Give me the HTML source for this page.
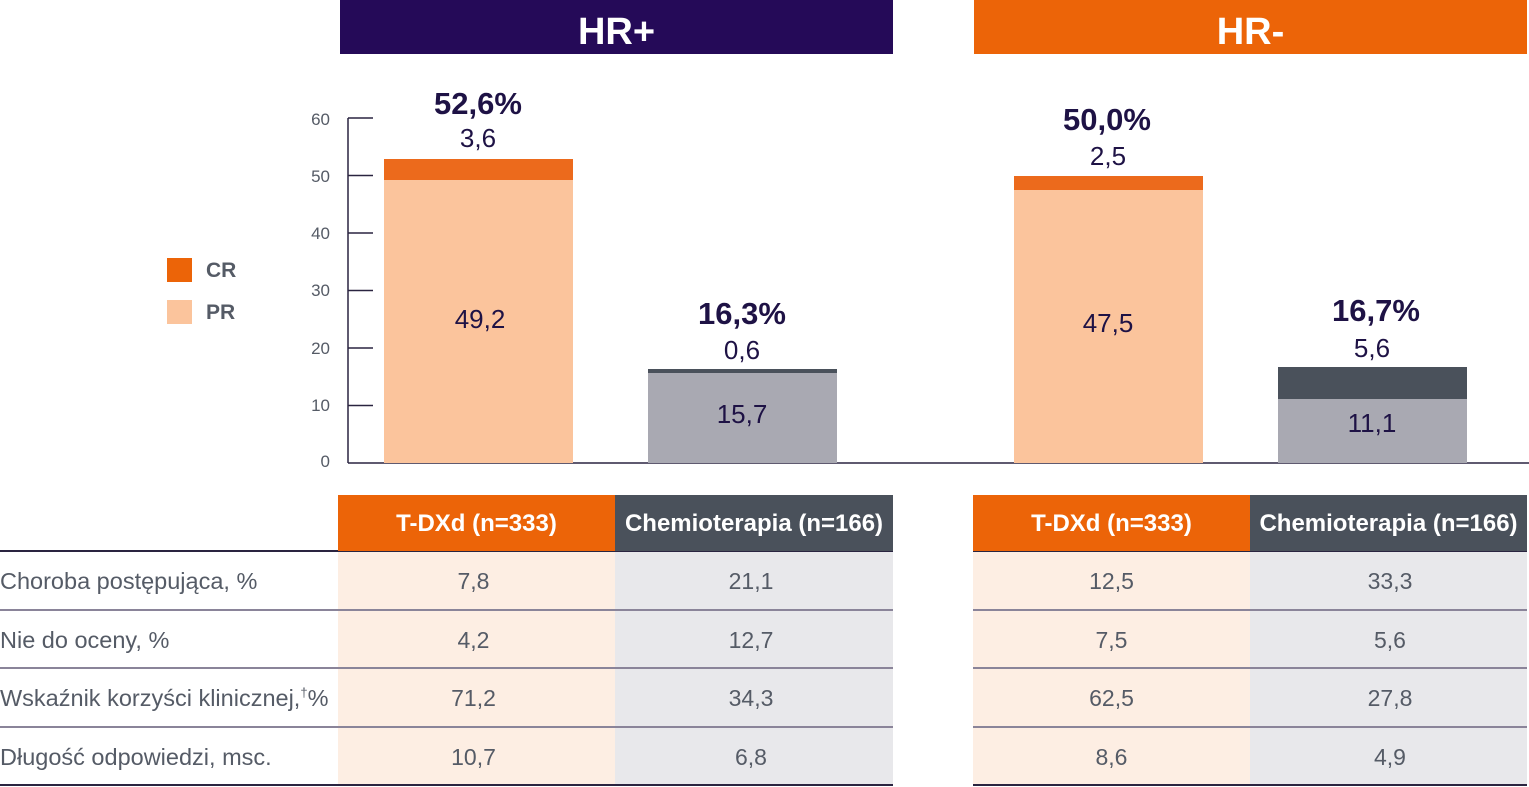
<!DOCTYPE html>
<html><head><meta charset="utf-8"><style>
body{margin:0;width:1529px;height:787px;background:#fff;overflow:hidden;position:relative;font-family:"Liberation Sans",Arial,sans-serif;}
.a{position:absolute;}
.hdr{color:#fff;font-weight:bold;font-size:38px;text-align:center;line-height:64px;}
.lbl{color:#1e1245;text-align:center;width:300px;}
.big{font-weight:bold;font-size:31px;}
.sm{font-size:26px;}
.th{color:#fff;font-weight:bold;font-size:24px;text-align:center;line-height:58px;top:495px;height:56px;}
.td{font-size:23px;color:#555b66;text-align:center;line-height:58px;}
.rl{font-size:23.5px;color:#555b66;left:0;line-height:58px;white-space:nowrap;}
.tick{color:#555b66;font-size:17px;width:31px;text-align:right;left:299px;}
</style></head><body>
<div class="a hdr" style="left:340px;top:0;width:553px;height:54px;background:#250a58">HR+</div>
<div class="a hdr" style="left:974px;top:0;width:553px;height:54px;background:#ec6408">HR-</div>

<svg class="a" style="left:0;top:0" width="1529" height="787">
<g stroke="#2a2440" stroke-width="1.5">
<line x1="348" y1="118" x2="348" y2="463"/>
<line x1="348" y1="463" x2="1529" y2="463"/>
<line x1="348" y1="118" x2="373" y2="118"/>
<line x1="348" y1="175.5" x2="373" y2="175.5"/>
<line x1="348" y1="233" x2="373" y2="233"/>
<line x1="348" y1="290.5" x2="373" y2="290.5"/>
<line x1="348" y1="348" x2="373" y2="348"/>
<line x1="348" y1="405.5" x2="373" y2="405.5"/>
</g>
<rect x="384" y="180" width="189" height="283" fill="#fbc49c"/>
<rect x="384" y="159" width="189" height="21" fill="#ec6a1c"/>
<rect x="648" y="373" width="189" height="90" fill="#a9a9b2"/>
<rect x="648" y="369" width="189" height="4" fill="#4a515b"/>
<rect x="1014" y="190" width="189" height="273" fill="#fbc49c"/>
<rect x="1014" y="176" width="189" height="14" fill="#ec6a1c"/>
<rect x="1278" y="399" width="189" height="64" fill="#a9a9b2"/>
<rect x="1278" y="367" width="189" height="32" fill="#4a515b"/>
<rect x="167" y="258" width="25" height="24" fill="#ec6408"/>
<rect x="167" y="300" width="25" height="24" fill="#fbc49c"/>
<rect x="338" y="551" width="277" height="234" fill="#fdeee3"/>
<rect x="615" y="551" width="278" height="234" fill="#e8e8eb"/>
<rect x="973" y="551" width="277" height="234" fill="#fdeee3"/>
<rect x="1250" y="551" width="277" height="234" fill="#e8e8eb"/>
<g stroke="#2a2440" stroke-width="2">
<line x1="0" y1="551" x2="893" y2="551"/><line x1="973" y1="551" x2="1527" y2="551"/>
<line x1="0" y1="785" x2="893" y2="785"/><line x1="973" y1="785" x2="1527" y2="785"/>
</g>
<g stroke="#8a8499" stroke-width="2">
<line x1="0" y1="610" x2="893" y2="610"/><line x1="973" y1="610" x2="1527" y2="610"/>
<line x1="0" y1="668" x2="893" y2="668"/><line x1="973" y1="668" x2="1527" y2="668"/>
<line x1="0" y1="727" x2="893" y2="727"/><line x1="973" y1="727" x2="1527" y2="727"/>
</g>
</svg>

<div class="a tick" style="top:110px">60</div>
<div class="a tick" style="top:167px">50</div>
<div class="a tick" style="top:224px">40</div>
<div class="a tick" style="top:281px">30</div>
<div class="a tick" style="top:339px">20</div>
<div class="a tick" style="top:396px">10</div>
<div class="a tick" style="top:452px">0</div>

<div class="a" style="left:206px;top:259px;font-size:21px;font-weight:bold;color:#555b66">CR</div>
<div class="a" style="left:206px;top:301px;font-size:21px;font-weight:bold;color:#555b66">PR</div>

<div class="a lbl big" style="left:328px;top:86px">52,6%</div>
<div class="a lbl sm" style="left:328px;top:123px">3,6</div>
<div class="a lbl sm" style="left:330px;top:304px">49,2</div>
<div class="a lbl big" style="left:592px;top:296px">16,3%</div>
<div class="a lbl sm" style="left:592px;top:335px">0,6</div>
<div class="a lbl sm" style="left:592px;top:399px">15,7</div>
<div class="a lbl big" style="left:957px;top:102px">50,0%</div>
<div class="a lbl sm" style="left:958px;top:141px">2,5</div>
<div class="a lbl sm" style="left:958px;top:308px">47,5</div>
<div class="a lbl big" style="left:1226px;top:293px">16,7%</div>
<div class="a lbl sm" style="left:1222px;top:333px">5,6</div>
<div class="a lbl sm" style="left:1222px;top:408px">11,1</div>

<div class="a th" style="left:338px;width:277px;background:#ec6408">T-DXd (n=333)</div>
<div class="a th" style="left:615px;width:278px;background:#4a515b">Chemioterapia (n=166)</div>
<div class="a th" style="left:973px;width:277px;background:#ec6408">T-DXd (n=333)</div>
<div class="a th" style="left:1250px;width:277px;background:#4a515b">Chemioterapia (n=166)</div>

<div class="a rl" style="top:552px">Choroba postępująca, %</div>
<div class="a rl" style="top:611px">Nie do oceny, %</div>
<div class="a rl" style="top:669px">Wskaźnik korzyści klinicznej,<span style="font-size:13px;position:relative;top:-9px">†</span>%</div>
<div class="a rl" style="top:728px">Długość odpowiedzi, msc.</div>

<div class="a td" style="left:338px;width:271px;top:552px">7,8</div>
<div class="a td" style="left:615px;width:272px;top:552px">21,1</div>
<div class="a td" style="left:973px;width:277px;top:552px">12,5</div>
<div class="a td" style="left:1250px;width:280px;top:552px">33,3</div>
<div class="a td" style="left:338px;width:271px;top:611px">4,2</div>
<div class="a td" style="left:615px;width:272px;top:611px">12,7</div>
<div class="a td" style="left:973px;width:277px;top:611px">7,5</div>
<div class="a td" style="left:1250px;width:280px;top:611px">5,6</div>
<div class="a td" style="left:338px;width:271px;top:669px">71,2</div>
<div class="a td" style="left:615px;width:272px;top:669px">34,3</div>
<div class="a td" style="left:973px;width:277px;top:669px">62,5</div>
<div class="a td" style="left:1250px;width:280px;top:669px">27,8</div>
<div class="a td" style="left:338px;width:271px;top:728px">10,7</div>
<div class="a td" style="left:615px;width:272px;top:728px">6,8</div>
<div class="a td" style="left:973px;width:277px;top:728px">8,6</div>
<div class="a td" style="left:1250px;width:280px;top:728px">4,9</div>
</body></html>
